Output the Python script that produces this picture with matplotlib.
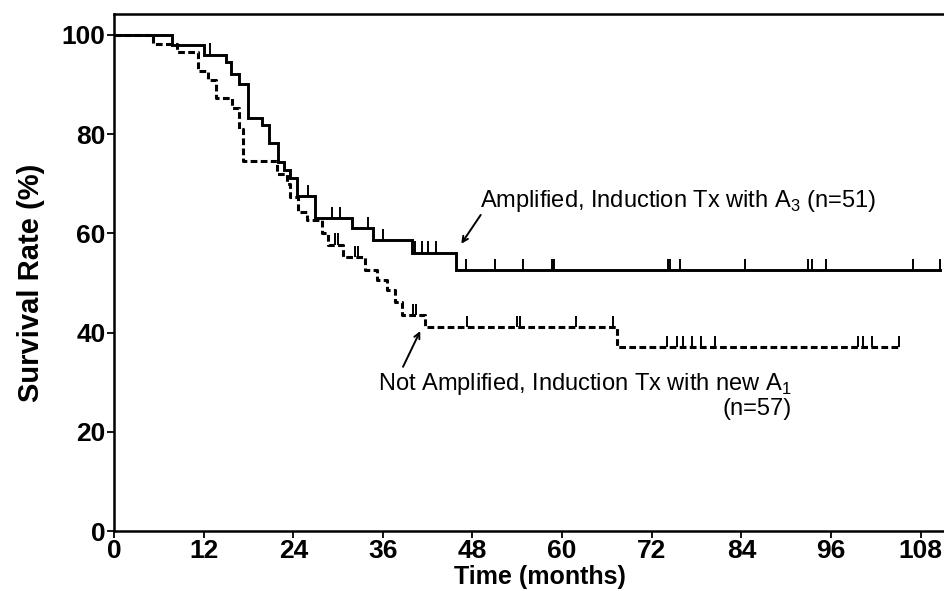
import numpy as np
import matplotlib
matplotlib.use("Agg")
import matplotlib.pyplot as plt

plt.rcParams['font.family'] = ['Liberation Sans', 'DejaVu Sans']
plt.rcParams['mathtext.fontset'] = 'custom'
plt.rcParams['mathtext.rm'] = 'Liberation Sans'

# Amplified, Induction Tx with A3 (n=51): step times (months) and survival after each step (%)
amp_t = [0, 7.8, 12.0, 15.0, 15.7, 16.8, 17.9, 19.8, 20.8, 21.9, 22.8, 23.6, 24.5, 26.9, 31.8, 34.7, 39.9, 45.8, 110.6]
amp_s = [100, 98.0, 96.0, 94.5, 92.1, 90.1, 83.3, 81.9, 78.2, 74.4, 72.8, 71.2, 67.5, 63.1, 61.0, 58.6, 56.1, 52.6, 52.6]
amp_cens = [12.9, 26.0, 29.2, 30.3, 34.0, 36.0, 40.3, 41.2, 42.1, 43.1, 47.1, 51.0, 54.8, 58.6, 58.9,
            74.2, 74.5, 75.8, 84.5, 92.9, 93.4, 95.4, 107.0, 110.6]

# Not Amplified, Induction Tx with new A1 (n=57)
non_t = [0, 5.2, 8.4, 11.3, 12.6, 13.6, 15.8, 16.7, 17.3, 21.8, 23.1, 23.6, 24.7, 25.8, 27.9, 28.7,
         30.7, 33.6, 35.2, 36.5, 37.6, 38.6, 41.7, 67.4, 105.1]
non_s = [100, 98.2, 96.5, 92.7, 91.0, 87.3, 85.3, 81.0, 74.5, 72.0, 70.0, 67.3, 64.3, 62.7, 60.1, 57.7,
         55.2, 52.6, 50.6, 48.6, 46.2, 43.5, 41.1, 37.1, 37.1]
non_cens = [29.6, 30.0, 32.3, 32.7, 40.0, 40.5, 47.3, 53.9, 54.4, 61.8, 66.8,
            74.0, 75.4, 76.2, 77.4, 78.6, 80.5, 99.6, 100.3, 101.5, 105.1]

x_ticks = [0, 12, 24, 36, 48, 60, 72, 84, 96, 108]
y_ticks = [0, 20, 40, 60, 80, 100]


def level_at(times, surv, t):
    idx = np.searchsorted(times, t, side='right') - 1
    return surv[max(idx, 0)]


fig = plt.figure(figsize=(9.44, 5.91), dpi=100)
ax = fig.add_axes([0.1208, 0.1015, 0.886, 0.8748])

ax.step(amp_t, amp_s, where='post', color='black', lw=2.1, solid_joinstyle='miter')
ax.step(non_t, non_s, where='post', color='black', lw=2.2, linestyle=(0, (2.2, 1.1)))

mark_h = 2.3
for t in amp_cens:
    y = level_at(amp_t, amp_s, t)
    ax.vlines(t, y, y + mark_h, color='black', lw=1.4)
for t in non_cens:
    y = level_at(non_t, non_s, t)
    ax.vlines(t, y, y + mark_h, color='black', lw=1.4)

ax.set_xlim(0, 112)
ax.set_ylim(0, 104.2)
ax.set_xticks(x_ticks)
ax.set_yticks(y_ticks)
ax.tick_params(axis='both', direction='out', length=5, width=1.3, labelsize=19, pad=1)
for lab in ax.get_xticklabels() + ax.get_yticklabels():
    lab.set_fontweight('bold')
for sp in ax.spines.values():
    sp.set_linewidth(1.8)

xl = ax.set_xlabel('Time (months)', fontsize=18, fontweight='bold')
xl.set_va('bottom')
ax.xaxis.set_label_coords(0.5096, -0.112)
ax.set_ylabel('Survival Rate (%)', fontsize=21, fontweight='bold')
ax.yaxis.set_label_coords(-0.083, 0.48)

# annotations
ax.text(49.0, 66.6, 'Amplified, Induction Tx with A$_\\mathregular{3}$ (n=51)', fontsize=17,
        ha='left', va='center')
ax.annotate('', xy=(46.5, 57.9), xytext=(49.1, 63.7),
            arrowprops=dict(arrowstyle='->', color='black', lw=1.4, shrinkA=0, shrinkB=0))

ax.text(35.4, 29.6, 'Not Amplified, Induction Tx with new A$_\\mathregular{1}$', fontsize=17,
        ha='left', va='center')
ax.annotate('', xy=(41.0, 40.3), xytext=(38.7, 33.1),
            arrowprops=dict(arrowstyle='->', color='black', lw=1.4, shrinkA=0, shrinkB=0))
ax.text(90.8, 24.6, '(n=57)', fontsize=17, ha='right', va='center')

fig.savefig('out.png', dpi=100)
